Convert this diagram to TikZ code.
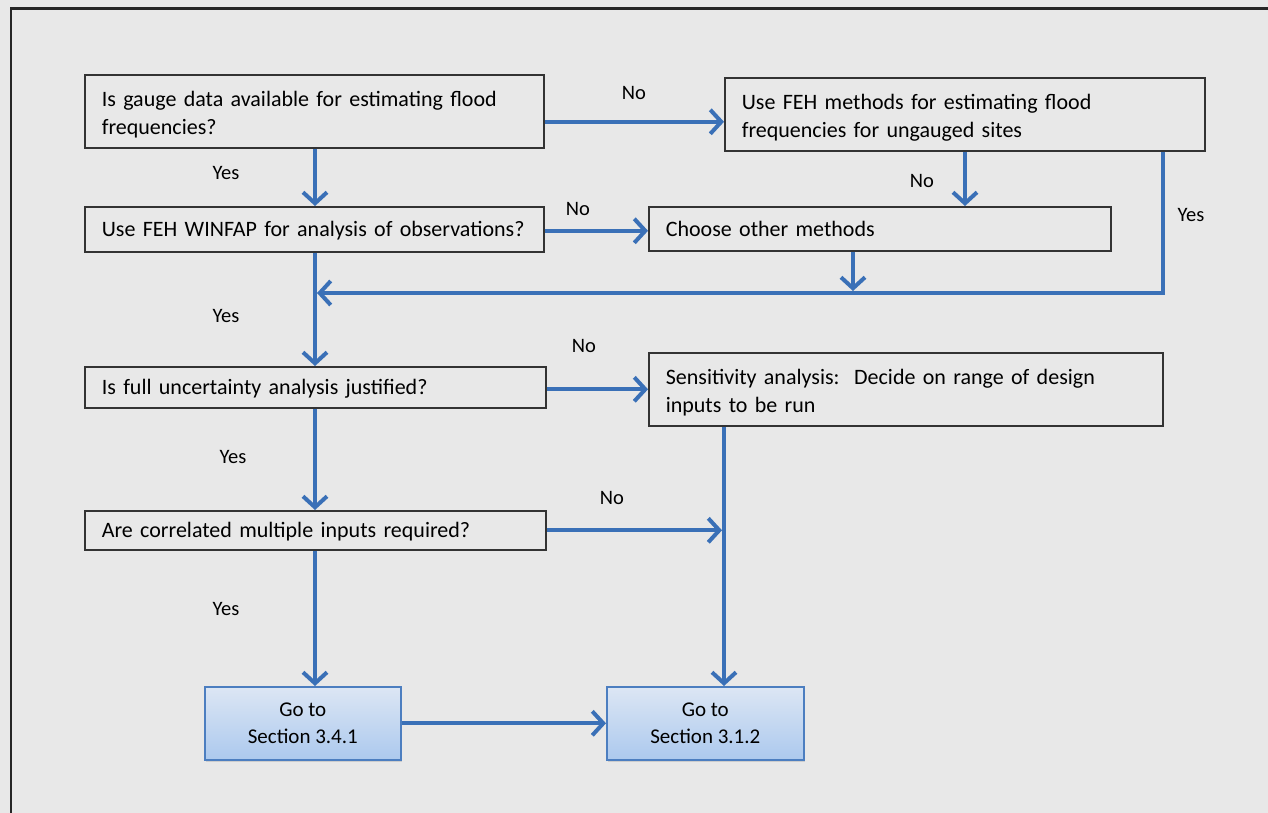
\documentclass[tikz,border=0pt]{standalone}
\usepackage{fontspec}
\setmainfont{Carlito}
\usetikzlibrary{arrows.meta,shadows}
\begin{document}
\definecolor{bg}{RGB}{232,232,232}
\definecolor{arr}{RGB}{58,112,183}
\definecolor{gtop}{RGB}{220,230,244}
\definecolor{gbot}{RGB}{172,201,238}
\definecolor{gborder}{RGB}{76,126,192}
\tikzset{
  qbox/.style={draw=black!80, line width=1.6pt, rectangle, inner xsep=17pt, inner ysep=0pt,
    anchor=north west, align=left, text depth=0pt, font=\fontsize{22}{28}\selectfont},
  qbox2/.style={qbox, text depth=25pt},
  gobox/.style={draw=gborder, line width=1.6pt, rectangle, inner sep=0pt, anchor=north west,
    align=center, top color=gtop, bottom color=gbot, font=\fontsize{21}{27.5}\selectfont,
    drop shadow={shadow xshift=1.5pt, shadow yshift=-2pt, opacity=0.25}},
  flow/.style={draw=arr, line width=4pt, -{Straight Barb[length=11pt,width=24pt]}},
  lbl/.style={font=\fontsize{20.5}{24}\selectfont, inner sep=0pt}
}
\begin{tikzpicture}[x=1pt,y=-1pt]
\fill[bg] (0,0) rectangle (1268,813);
\useasboundingbox (0,0) rectangle (1268,813);
\draw[line width=2.4pt, black!85] (1275,8.5) -- (11,8.5) -- (11,820);

\node[qbox2, minimum width=459pt, minimum height=73pt, text width=425pt] (b1) at (84,74)
  {Is gauge data available for estimating flood\\frequencies?};
\node[qbox2, minimum width=480pt, minimum height=73pt, text width=446pt] (b2) at (724,77)
  {Use FEH methods for estimating flood\\frequencies for ungauged sites};
\node[qbox, minimum width=459pt, minimum height=45pt, text width=425pt] (b3) at (84,206)
  {Use FEH WINFAP for analysis of observations?};
\node[qbox, minimum width=462pt, minimum height=44pt, text width=428pt] (b4) at (648,206)
  {Choose other methods};
\node[qbox, minimum width=461pt, minimum height=41pt, text width=427pt] (b5) at (84,366)
  {Is full uncertainty analysis justified?};
\node[qbox2, minimum width=514pt, minimum height=73pt, text width=480pt] (b6) at (648,352)
  {Sensitivity analysis:\ \ Decide on range of design\\inputs to be run};
\node[qbox, minimum width=461pt, minimum height=39pt, text width=427pt] (b7) at (84,510)
  {Are correlated multiple inputs required?};
\node[gobox, minimum width=196pt, minimum height=73pt] (b8) at (204,686)
  {Go to\\Section 3.4.1};
\node[gobox, minimum width=197pt, minimum height=73pt] (b9) at (606,686)
  {Go to\\Section 3.1.2};

\coordinate (cx) at (315,0);
\coordinate (m1) at (1163,293);
\coordinate (m2) at (317,293);
\coordinate (j1) at (724,530);

\draw[flow] ([yshift=-10.5pt]b1.east) -- ([yshift=-10.5pt]b1.east -| b2.west);
\draw[flow] (b1.south -| cx) -- (b3.north -| cx);
\draw[flow] (b2.south -| 965,0) -- (b4.north -| 965,0);
\draw[flow] ([yshift=-1.5pt]b3.east) -- ([yshift=-1.5pt]b3.east -| b4.west);
\draw[flow] (b4.south -| 853,0) -- (853,291);
\draw[flow] (b2.south -| m1) -- (m1) -- (m2);
\draw[flow] (b3.south -| cx) -- (b5.north -| cx);
\draw[flow] ([yshift=-2pt]b5.east) -- ([yshift=-2pt]b5.east -| b6.west);
\draw[flow] (b5.south -| cx) -- (b7.north -| cx);
\draw[flow] (b6.south -| j1) -- (b9.north -| j1);
\draw[flow] (b7.east) -- ([xshift=-2pt]b7.east -| j1);
\draw[flow] (b7.south -| cx) -- (b8.north -| cx);
\draw[flow] (b8.east) -- (b8.east -| b9.west);

\node[lbl] (l1) at (634,93) {No};
\node[lbl] (l2) at (226,173) {Yes};
\node[lbl] (l3) at (922,181) {No};
\node[lbl] (l4) at (578,209) {No};
\node[lbl] (l5) at (1191,215) {Yes};
\node[lbl] (l6) at (226,316) {Yes};
\node[lbl] (l7) at (584,346) {No};
\node[lbl] (l8) at (233,457) {Yes};
\node[lbl] (l9) at (612,498) {No};
\node[lbl] (l10) at (226,609) {Yes};
\end{tikzpicture}
\end{document}
